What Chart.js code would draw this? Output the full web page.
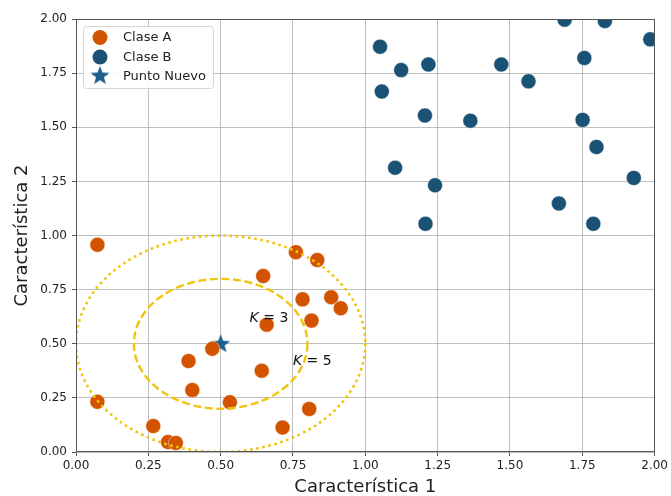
<!DOCTYPE html>
<html>
<head>
<meta charset="utf-8">
<script src="https://cdn.jsdelivr.net/npm/chart.js@4.4.0/dist/chart.umd.min.js"></script>
<style>
  body { margin: 0; background: #fff; }
</style>
</head>
<body>
<canvas id="mycanvas" width="671" height="496"></canvas>
<script>
// datos
var claseAx = [0.074, 0.760, 0.834, 0.647, 0.783, 0.882, 0.915, 0.814, 0.659, 0.471,
               0.389, 0.642, 0.402, 0.532, 0.074, 0.806, 0.267, 0.714, 0.318, 0.345];
var claseAy = [0.957, 0.923, 0.887, 0.813, 0.705, 0.715, 0.664, 0.607, 0.588, 0.477,
               0.420, 0.375, 0.286, 0.230, 0.232, 0.199, 0.120, 0.113, 0.046, 0.042];

var claseBx = [1.689, 1.828, 1.985, 1.051, 1.757, 1.218, 1.470, 1.124, 1.564, 1.057,
               1.206, 1.363, 1.751, 1.799, 1.103, 1.928, 1.241, 1.669, 1.208, 1.788];
var claseBy = [1.997, 1.991, 1.906, 1.872, 1.820, 1.790, 1.790, 1.764, 1.712, 1.665,
               1.554, 1.530, 1.534, 1.409, 1.313, 1.266, 1.232, 1.148, 1.054, 1.054];

var puntoNuevo = [0.5, 0.5];
var radiosK = [0.3, 0.5];
var etiquetasK = ["3", "5"];
var posEtiquetasK = [[0.6, 0.6], [0.75, 0.4]];
var ticksEjes = [0, 0.25, 0.5, 0.75, 1, 1.25, 1.5, 1.75, 2];

var colorA = "#d35400";
var colorB = "#1a5276";
var colorEstrella = "#1f5f8b";
var colorCirculo = "#f1c40f";
var fuente = "'DejaVu Sans', sans-serif";

function toPoints(xs, ys) {
  var pts = [];
  for (var i = 0; i < xs.length; i++) pts.push({x: xs[i], y: ys[i]});
  return pts;
}

// estrella rellena como imagen para el marcador
var estrella = document.createElement("canvas");
estrella.width = 22;
estrella.height = 22;
(function() {
  var c = estrella.getContext("2d");
  var R = 10, r = 4.2;
  c.beginPath();
  for (var i = 0; i < 10; i++) {
    var ang = -Math.PI / 2 + i * Math.PI / 5;
    var rad = (i % 2 === 0) ? R : r;
    var px = 11 + rad * Math.cos(ang), py = 11.5 + rad * Math.sin(ang);
    if (i === 0) c.moveTo(px, py); else c.lineTo(px, py);
  }
  c.closePath();
  c.fillStyle = colorEstrella;
  c.fill();
})();

var extras = {
  id: "extras",
  afterDatasetsDraw: function(chart) {
    var ctx = chart.ctx;
    var xs = chart.scales.x, ys = chart.scales.y;
    var area = chart.chartArea;
    var cx = xs.getPixelForValue(puntoNuevo[0]);
    var cy = ys.getPixelForValue(puntoNuevo[1]);

    ctx.save();
    ctx.beginPath();
    ctx.rect(area.left, area.top, area.right - area.left, area.bottom - area.top);
    ctx.clip();

    // circulos K
    for (var i = 0; i < radiosK.length; i++) {
      var rx = xs.getPixelForValue(puntoNuevo[0] + radiosK[i]) - cx;
      var ry = cy - ys.getPixelForValue(puntoNuevo[1] + radiosK[i]);
      ctx.beginPath();
      ctx.ellipse(cx, cy, rx, ry, 0, 0, Math.PI * 2);
      ctx.strokeStyle = colorCirculo;
      if (i === 0) {
        ctx.lineWidth = 2.4;
        ctx.setLineDash([8, 3.6]);
      } else {
        ctx.lineWidth = 2.6;
        ctx.setLineDash([2.6, 3.6]);
      }
      ctx.stroke();
    }
    ctx.setLineDash([]);

    // etiquetas K
    ctx.fillStyle = "#111";
    ctx.textBaseline = "alphabetic";
    ctx.textAlign = "left";
    for (var j = 0; j < etiquetasK.length; j++) {
      var tx = xs.getPixelForValue(posEtiquetasK[j][0]);
      var ty = ys.getPixelForValue(posEtiquetasK[j][1]);
      ctx.font = "italic 14px " + fuente;
      ctx.fillText("K", tx, ty);
      var w = ctx.measureText("K").width;
      ctx.font = "14px " + fuente;
      ctx.fillText(" = " + etiquetasK[j], tx + w, ty);
    }
    ctx.restore();
  },
  afterDraw: function(chart) {
    var ctx = chart.ctx;
    var area = chart.chartArea;
    ctx.save();
    // marco
    ctx.strokeStyle = "#555";
    ctx.lineWidth = 1;
    ctx.strokeRect(Math.round(area.left) + 0.5, Math.round(area.top) + 0.5,
                   Math.round(area.right - area.left) - 1, Math.round(area.bottom - area.top) - 1);

    // leyenda
    var lx = 83, ly = 26, lw = 130, lh = 62;
    ctx.beginPath();
    ctx.roundRect(lx + 0.5, ly + 0.5, lw, lh, 3);
    ctx.fillStyle = "rgba(255,255,255,0.9)";
    ctx.fill();
    ctx.strokeStyle = "#d6d6d6";
    ctx.stroke();

    var filas = [
      {label: "Clase A", color: colorA, y: 37.5},
      {label: "Clase B", color: colorB, y: 57},
      {label: "Punto Nuevo", star: true, y: 76}
    ];
    ctx.font = "13px " + fuente;
    ctx.textBaseline = "middle";
    ctx.textAlign = "left";
    filas.forEach(function(f) {
      if (f.star) {
        ctx.drawImage(estrella, 100 - 11, f.y - 11.5);
      } else {
        ctx.beginPath();
        ctx.arc(100, f.y, 7.5, 0, Math.PI * 2);
        ctx.fillStyle = f.color;
        ctx.fill();
      }
      ctx.fillStyle = "#222";
      ctx.fillText(f.label, 123, f.y + 0.5);
    });
    ctx.restore();
  }
};

var ctx1 = document.getElementById("mycanvas");

var scatterGraph = new Chart(ctx1, {
  type: "scatter",
  data: {
    datasets: [
      {
        label: "Clase A",
        data: toPoints(claseAx, claseAy),
        backgroundColor: colorA,
        borderColor: "rgba(255,255,255,0.55)",
        borderWidth: 0.8,
        pointRadius: 7.5
      },
      {
        label: "Clase B",
        data: toPoints(claseBx, claseBy),
        backgroundColor: colorB,
        borderColor: "rgba(255,255,255,0.55)",
        borderWidth: 0.8,
        pointRadius: 7.5
      },
      {
        label: "Punto Nuevo",
        data: [{x: puntoNuevo[0], y: puntoNuevo[1]}],
        pointStyle: estrella,
        pointRadius: 10
      }
    ]
  },
  options: {
    responsive: false,
    devicePixelRatio: 1,
    animation: false,
    layout: { padding: { top: 19, right: 14, left: 0, bottom: 0 } },
    plugins: {
      legend: { display: false },
      tooltip: { enabled: false }
    },
    scales: {
      x: {
        type: "linear",
        min: 0,
        max: 2,
        afterFit: function(s) { s.height = 44; },
        afterBuildTicks: function(s) { s.ticks = ticksEjes.map(function(v) { return {value: v}; }); },
        ticks: {
          autoSkip: false,
          maxRotation: 0,
          padding: 3,
          color: "#222",
          font: { family: fuente, size: 12 },
          callback: function(v) { return Number(v).toFixed(2); }
        },
        grid: { color: "rgba(170,170,170,0.75)", tickColor: "#555", tickLength: 4 },
        border: { display: false },
        title: {
          display: true,
          text: "Característica 1",
          color: "#222",
          font: { family: fuente, size: 18, lineHeight: 1 },
          padding: { top: 0, bottom: 0 }
        }
      },
      y: {
        type: "linear",
        min: 0,
        max: 2,
        afterFit: function(s) { s.width = 76; },
        afterBuildTicks: function(s) { s.ticks = ticksEjes.map(function(v) { return {value: v}; }); },
        ticks: {
          autoSkip: false,
          padding: 5,
          color: "#222",
          font: { family: fuente, size: 12 },
          callback: function(v) { return Number(v).toFixed(2); }
        },
        grid: { color: "rgba(170,170,170,0.75)", tickColor: "#555", tickLength: 4 },
        border: { display: false },
        title: {
          display: true,
          text: "Característica 2",
          color: "#222",
          font: { family: fuente, size: 18, lineHeight: 1 },
          padding: { top: 13, bottom: 0 }
        }
      }
    }
  },
  plugins: [extras]
});
</script>
</body>
</html>
